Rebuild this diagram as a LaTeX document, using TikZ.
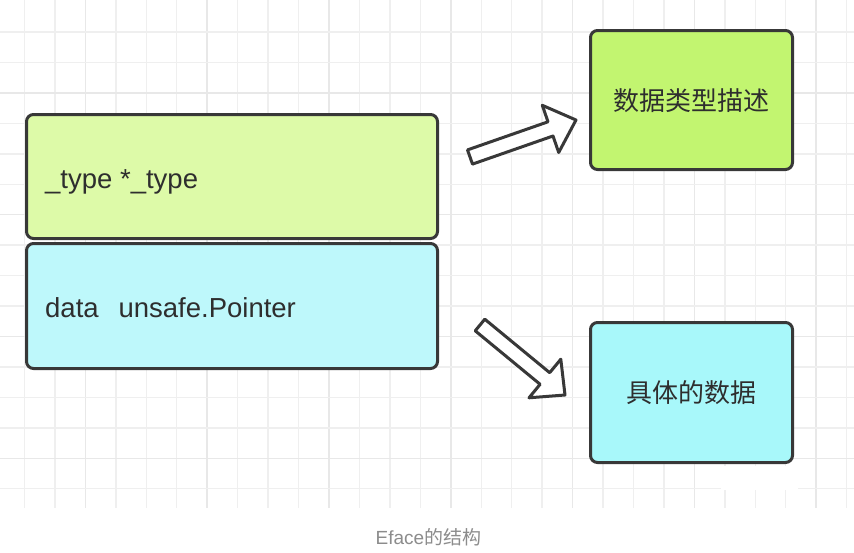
\documentclass[tikz,border=0pt]{standalone}
\usepackage{fontspec}
\setmainfont{Liberation Sans}
\newfontfamily\cjk{Noto Sans CJK SC}
\definecolor{gridc}{HTML}{EFEFEF}
\definecolor{gridm}{HTML}{E8E8E8}
\definecolor{edge}{HTML}{383838}
\definecolor{lgreen}{HTML}{DDFAA8}
\definecolor{lcyan}{HTML}{BEF8FB}
\definecolor{dgreen}{HTML}{C2F570}
\definecolor{dcyan}{HTML}{A8F8FA}
\definecolor{txt}{HTML}{2E2E2E}
\definecolor{capc}{HTML}{8C8C8C}
\tikzset{
  box/.style={draw=edge, line width=3pt, rounded corners=7pt, inner sep=0pt},
  lbl/.style={text=txt, inner sep=0pt, font=\fontsize{27.5}{30}\selectfont},
  clbl/.style={text=txt, inner sep=0pt, font=\cjk\fontsize{26}{30}\selectfont},
  blockarrow/.style={draw=edge, line width=3pt, fill=white, line join=round},
}
\begin{document}
\begin{tikzpicture}[x=1pt,y=-1pt]
\useasboundingbox (0,0) rectangle (854,552);
\fill[white] (0,0) rectangle (854,552);
% grid
\foreach \k in {0,...,27}{
  \pgfmathsetmacro{\gx}{24.5+30.45*\k}
  \pgfmathtruncatemacro{\mj}{mod(\k+2,4)==0}
  \ifnum\mj=1
    \draw[gridm, line width=1.5pt] (\gx,0) -- (\gx,508);
  \else
    \draw[gridc, line width=1.4pt] (\gx,0) -- (\gx,508);
  \fi
}
\foreach \k in {0,...,15}{
  \pgfmathsetmacro{\gy}{32+30.45*\k}
  \pgfmathtruncatemacro{\mj}{mod(\k+2,4)==0}
  \ifnum\mj=1
    \draw[gridm, line width=1.5pt] (0,\gy) -- (854,\gy);
  \else
    \draw[gridc, line width=1.4pt] (0,\gy) -- (854,\gy);
  \fi
}
\fill[white] (721,466) rectangle (798,490);
% left boxes
\node[box, fill=lgreen, minimum width=411pt, minimum height=124pt] (typebox) at (232,176.5) {};
\node[box, fill=lcyan, minimum width=411pt, minimum height=125pt] (databox) at (232,306) {};
\node[lbl, anchor=west] (typetxt) at (45,181.5) {\_type *\_type};
\node[lbl, anchor=west] (datatxt) at (45,308) {data\ \ \,unsafe.Pointer};
% right boxes
\node[box, fill=dgreen, minimum width=202pt, minimum height=139pt] (descbox) at (691.5,100) {};
\node[box, fill=dcyan, minimum width=202pt, minimum height=140pt] (valbox) at (691.5,392.5) {};
\node[clbl] (desctxt) at (691.5,101) {数据类型描述};
\node[clbl] (valtxt) at (691.5,393) {具体的数据};
% block arrows
\draw[blockarrow] (472.5,164.1) -- (467.5,149.9) -- (548.0,121.8) -- (542.3,105.3)
  -- (576,120) -- (558.7,152.5) -- (553.0,136.0) -- cycle;
\draw[blockarrow] (475.2,330.8) -- (484.8,319.2) -- (549.7,372.7) -- (560.8,359.2)
  -- (565,395) -- (529.0,397.8) -- (540.1,384.3) -- cycle;
% caption
\node[text=capc, inner sep=0pt, font=\fontsize{19}{22}\selectfont] (cap) at (428.5,537) {Eface{\cjk 的结构}};
\end{tikzpicture}
\end{document}
